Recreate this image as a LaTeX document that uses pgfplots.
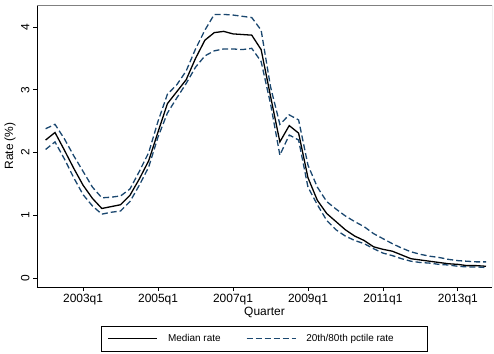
\documentclass[border=0pt]{standalone}
\usepackage{fontspec}
\setmainfont{Liberation Sans}
\usepackage{pgfplots}
\usepackage{pgfplotstable}
\pgfplotsset{compat=1.18}
\definecolor{stnavy}{RGB}{26,71,111}
\pgfplotstableread{
t med hi lo
2002.00 2.20 2.38 2.05
2002.25 2.32 2.45 2.17
2002.50 2.04 2.22 1.90
2002.75 1.75 1.95 1.60
2003.00 1.48 1.70 1.33
2003.25 1.27 1.45 1.15
2003.50 1.11 1.28 1.02
2003.75 1.14 1.29 1.05
2004.00 1.17 1.31 1.07
2004.25 1.32 1.42 1.22
2004.50 1.58 1.70 1.48
2004.75 1.87 2.00 1.77
2005.00 2.33 2.50 2.25
2005.25 2.78 2.93 2.63
2005.50 2.97 3.08 2.87
2005.75 3.16 3.30 3.10
2006.00 3.50 3.65 3.36
2006.25 3.79 3.95 3.54
2006.50 3.91 4.20 3.62
2006.75 3.93 4.20 3.65
2007.00 3.89 4.19 3.65
2007.25 3.88 4.17 3.64
2007.50 3.87 4.15 3.66
2007.75 3.64 3.95 3.45
2008.00 2.90 3.05 2.78
2008.25 2.17 2.45 1.96
2008.50 2.43 2.60 2.28
2008.75 2.31 2.52 2.20
2009.00 1.60 1.80 1.45
2009.25 1.24 1.45 1.17
2009.50 1.03 1.22 0.92
2009.75 0.90 1.10 0.77
2010.00 0.77 0.99 0.67
2010.25 0.67 0.90 0.60
2010.50 0.60 0.82 0.55
2010.75 0.50 0.71 0.47
2011.00 0.46 0.63 0.40
2011.25 0.43 0.55 0.36
2011.50 0.37 0.48 0.31
2011.75 0.31 0.42 0.27
2012.00 0.29 0.38 0.25
2012.25 0.27 0.35 0.24
2012.50 0.25 0.33 0.22
2012.75 0.23 0.30 0.21
2013.00 0.22 0.28 0.19
2013.25 0.20 0.27 0.18
2013.50 0.20 0.26 0.18
2013.75 0.19 0.26 0.17
}\datatable
\begin{document}
\begin{tikzpicture}
\begin{axis}[
  at={(0,0)}, anchor=south west,
  scale only axis, width=455bp, height=282bp,
  xmin=2001.77, xmax=2013.91, ymin=-0.14, ymax=4.35,
  axis lines=left, axis line style={-, black, line width=0.8bp},
  xtick={2003,2005,2007,2009,2011,2013},
  xticklabels={2003q1,2005q1,2007q1,2009q1,2011q1,2013q1},
  ytick={0,1,2,3,4},
  tick align=outside, major tick length=4bp,
  tick style={black, line width=0.8bp},
  /pgf/number format/assume math mode=true,
  ticklabel style={font=\fontsize{12}{14}\selectfont},
  yticklabel style={rotate=90, anchor=south},
  xlabel={Quarter}, ylabel={Rate (\%)},
  label style={font=\fontsize{12}{14}\selectfont},
  xlabel style={at={(axis description cs:0.5,0)}, anchor=center, yshift=-25bp},
  ylabel style={at={(axis description cs:0,0.5)}, anchor=center, yshift=27bp},
  legend columns=2,
  legend style={at={(0.5,-0.1383)}, anchor=north, draw=black, line width=0.6bp,
    font=\fontsize{10}{12}\selectfont, inner xsep=6bp, inner ysep=6bp,
    column sep=8bp},
  legend cell align=left,
  legend image code/.code={\draw[#1] (0bp,0bp) -- (49bp,0bp);},
]
\addplot[black, line width=1.3bp] table[x=t, y=med] {\datatable};
\addlegendentry{\makebox[68bp][l]{Median rate}}
\addplot[stnavy, line width=1.3bp, dash pattern=on 6bp off 3bp] table[x=t, y=hi] {\datatable};
\addlegendentry{\makebox[113bp][l]{20th/80th pctile rate}}
\addplot[stnavy, line width=1.3bp, dash pattern=on 6bp off 3bp, forget plot] table[x=t, y=lo] {\datatable};
\draw[gray, line width=0.8bp] (rel axis cs:0,1) -- (rel axis cs:1,1) -- (rel axis cs:1,0);
\end{axis}
\pgfresetboundingbox
\path (-37bp,-67bp) rectangle (457bp,287bp);
\end{tikzpicture}
\end{document}
